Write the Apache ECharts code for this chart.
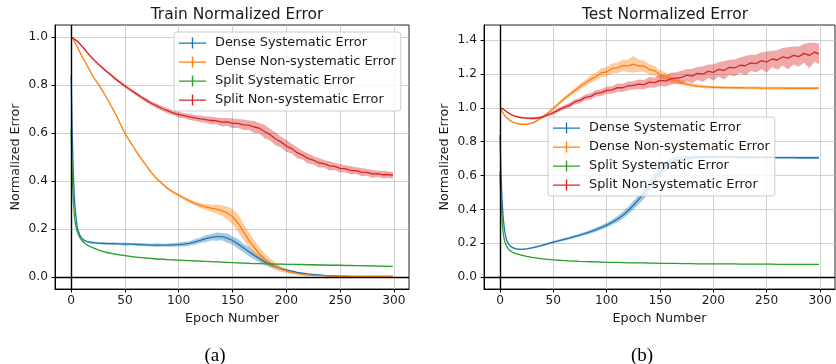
<!DOCTYPE html>
<html lang="en">
<head>
    <meta charset="UTF-8">
    <title>Normalized Error</title>
    <script src="https://cdn.jsdelivr.net/npm/echarts@6/dist/echarts.min.js"></script>
    <style>
        html, body { margin: 0; padding: 0; background: #fff; }
        #container { width: 836px; height: 364px; }
    </style>
</head>
<body>
    <div id="container"></div>
    <script>
        var epochs = [0,1,2,3,4,5,6,8,10,12,15,20,
            25,30,35,40,45,50,55,60,65,70,75,80,85,90,95,100,105,110,115,120,
            125,130,135,140,145,150,155,160,165,170,175,180,185,190,195,200,205,210,215,220,
            225,230,235,240,245,250,255,260,265,270,275,280,285,290,295,299];

        var seriesNames = ['Dense Systematic Error', 'Dense Non-systematic Error',
            'Split Systematic Error', 'Split Non-systematic Error'];

        var xTicks = [0, 50, 100, 150, 200, 250, 300];
        var yTicksTrain = [0, 0.2, 0.4, 0.6, 0.8, 1.0];
        var yTicksTest = [0, 0.2, 0.4, 0.6, 0.8, 1.0, 1.2, 1.4];

        // ---- train ----
        var trainDenseSys = [0.84,0.60,0.43,0.33,0.27,0.23,0.20,0.175,0.162,0.153,0.147,0.143,
            0.141,0.140,0.139,0.139,0.138,0.137,0.137,0.136,0.135,0.134,0.133,0.133,0.133,0.133,0.134,0.135,0.137,0.140,0.146,0.153,
            0.160,0.165,0.168,0.168,0.162,0.152,0.138,0.122,0.106,0.090,0.076,0.063,0.052,0.043,0.035,0.029,0.024,0.019,0.016,0.013,
            0.011,0.009,0.007,0.006,0.005,0.004,0.004,0.003,0.003,0.003,0.002,0.002,0.002,0.002,0.002,0.002];
        var trainDenseSysErr = [0.006,0.006,0.005,0.004,0.004,0.004,0.004,0.004,0.004,0.004,0.004,0.005,
            0.005,0.006,0.005,0.006,0.005,0.007,0.005,0.006,0.007,0.006,0.006,0.008,0.006,0.007,0.008,0.008,0.010,0.009,0.012,0.011,
            0.014,0.013,0.017,0.015,0.019,0.017,0.020,0.018,0.019,0.016,0.015,0.012,0.010,0.008,0.006,0.005,0.004,0.003,0.003,0.002,
            0.002,0.002,0.002,0.001,0.001,0.001,0.001,0.001,0.001,0.001,0.001,0.001,0.001,0.001,0.001,0.001];

        var trainDenseNon = [1.000,0.995,0.990,0.982,0.973,0.965,0.957,0.938,0.920,0.905,0.880,0.838,
            0.805,0.770,0.730,0.690,0.645,0.598,0.562,0.527,0.494,0.463,0.433,0.407,0.387,0.368,0.353,0.341,0.328,0.317,0.307,0.298,
            0.292,0.287,0.283,0.277,0.267,0.252,0.225,0.190,0.155,0.124,0.097,0.075,0.058,0.044,0.033,0.025,0.019,0.014,0.011,0.008,
            0.007,0.006,0.005,0.004,0.004,0.003,0.003,0.003,0.002,0.002,0.002,0.002,0.002,0.002,0.002,0.002];
        var trainDenseNonErr = [0.002,0.002,0.002,0.002,0.002,0.002,0.002,0.002,0.002,0.002,0.002,0.002,
            0.003,0.003,0.003,0.004,0.003,0.004,0.004,0.004,0.005,0.004,0.005,0.005,0.006,0.005,0.006,0.006,0.007,0.008,0.008,0.010,
            0.012,0.015,0.018,0.022,0.027,0.032,0.036,0.034,0.033,0.030,0.027,0.023,0.019,0.015,0.011,0.008,0.006,0.004,0.003,0.002,
            0.002,0.002,0.001,0.001,0.001,0.001,0.001,0.001,0.001,0.001,0.001,0.001,0.001,0.001,0.001,0.001];

        var trainSplitSys = [0.61,0.43,0.32,0.26,0.22,0.20,0.185,0.165,0.152,0.143,0.133,0.122,
            0.113,0.106,0.100,0.096,0.092,0.089,0.086,0.083,0.081,0.079,0.077,0.075,0.074,0.072,0.071,0.070,0.069,0.068,0.067,0.066,
            0.065,0.064,0.063,0.062,0.061,0.060,0.059,0.058,0.057,0.056,0.056,0.055,0.055,0.054,0.054,0.053,0.053,0.052,0.052,0.051,
            0.051,0.050,0.050,0.049,0.049,0.049,0.048,0.048,0.047,0.047,0.046,0.046,0.045,0.045,0.044,0.044];
        var trainSplitSysErr = [0.003,0.003,0.003,0.002,0.002,0.002,0.002,0.002,0.002,0.002,0.002,0.002,
            0.002,0.002,0.002,0.002,0.002,0.002,0.002,0.002,0.002,0.002,0.002,0.002,0.002,0.002,0.002,0.002,0.002,0.002,0.002,0.002,
            0.002,0.002,0.002,0.002,0.002,0.002,0.002,0.002,0.002,0.002,0.002,0.002,0.002,0.002,0.002,0.002,0.002,0.002,0.002,0.002,
            0.002,0.002,0.002,0.002,0.002,0.002,0.002,0.002,0.002,0.002,0.002,0.002,0.002,0.002,0.002,0.002];

        var trainSplitNon = [1.000,0.998,0.995,0.992,0.988,0.985,0.981,0.972,0.962,0.952,0.935,0.910,
            0.888,0.868,0.849,0.830,0.812,0.796,0.780,0.765,0.750,0.736,0.723,0.712,0.701,0.692,0.684,0.677,0.672,0.667,0.663,0.659,
            0.656,0.652,0.651,0.645,0.646,0.640,0.640,0.634,0.633,0.625,0.620,0.605,0.593,0.575,0.563,0.546,0.535,0.518,0.508,0.494,
            0.487,0.476,0.472,0.463,0.461,0.453,0.451,0.444,0.443,0.437,0.436,0.430,0.431,0.426,0.427,0.424];
        var trainSplitNonErr = [0.003,0.003,0.003,0.003,0.003,0.003,0.003,0.004,0.004,0.004,0.004,0.005,
            0.005,0.006,0.005,0.007,0.006,0.007,0.006,0.008,0.007,0.009,0.008,0.010,0.009,0.011,0.010,0.012,0.011,0.013,0.012,0.014,
            0.013,0.016,0.014,0.018,0.016,0.020,0.018,0.022,0.019,0.025,0.022,0.028,0.024,0.027,0.022,0.025,0.020,0.023,0.018,0.021,
            0.017,0.020,0.016,0.019,0.015,0.018,0.015,0.017,0.014,0.017,0.014,0.016,0.013,0.016,0.013,0.015];

        // ---- test ----
        var testDenseSys = [0.84,0.60,0.45,0.35,0.29,0.25,0.222,0.195,0.181,0.173,0.166,0.163,
            0.166,0.172,0.180,0.188,0.197,0.206,0.214,0.222,0.230,0.239,0.248,0.258,0.268,0.280,0.293,0.307,0.323,0.342,0.364,0.392,
            0.424,0.458,0.495,0.537,0.582,0.622,0.653,0.676,0.690,0.698,0.703,0.706,0.708,0.709,0.710,0.710,0.710,0.710,0.709,0.709,
            0.708,0.708,0.708,0.707,0.707,0.707,0.707,0.706,0.706,0.706,0.706,0.705,0.705,0.705,0.705,0.705];
        var testDenseSysErr = [0.004,0.004,0.004,0.004,0.004,0.004,0.004,0.004,0.004,0.004,0.004,0.004,
            0.004,0.005,0.005,0.006,0.006,0.007,0.007,0.008,0.008,0.009,0.009,0.010,0.011,0.012,0.013,0.014,0.016,0.018,0.020,0.023,
            0.026,0.029,0.032,0.035,0.036,0.034,0.030,0.026,0.021,0.017,0.014,0.012,0.010,0.009,0.008,0.008,0.007,0.007,0.007,0.007,
            0.007,0.007,0.007,0.007,0.007,0.007,0.007,0.007,0.007,0.007,0.007,0.007,0.007,0.007,0.007,0.007];

        var testDenseNon = [1.000,0.990,0.978,0.968,0.958,0.950,0.943,0.932,0.923,0.916,0.909,0.903,
            0.903,0.910,0.925,0.945,0.970,0.997,1.025,1.052,1.078,1.102,1.125,1.147,1.170,1.184,1.208,1.212,1.233,1.236,1.250,1.248,
            1.258,1.249,1.247,1.228,1.219,1.197,1.188,1.170,1.162,1.150,1.141,1.134,1.129,1.126,1.124,1.122,1.121,1.120,1.120,1.119,
            1.119,1.118,1.118,1.118,1.117,1.117,1.117,1.117,1.117,1.116,1.116,1.116,1.116,1.116,1.116,1.117];
        var testDenseNonErr = [0.003,0.003,0.003,0.003,0.003,0.003,0.003,0.003,0.003,0.003,0.003,0.003,
            0.004,0.005,0.006,0.007,0.008,0.009,0.010,0.012,0.013,0.015,0.017,0.019,0.021,0.024,0.026,0.028,0.030,0.032,0.034,0.036,
            0.050,0.036,0.033,0.030,0.028,0.025,0.022,0.019,0.016,0.014,0.012,0.011,0.010,0.009,0.009,0.008,0.008,0.008,0.008,0.008,
            0.008,0.008,0.008,0.008,0.008,0.008,0.008,0.008,0.008,0.008,0.008,0.008,0.008,0.008,0.008,0.008];

        var testSplitSys = [0.62,0.45,0.33,0.26,0.22,0.20,0.185,0.165,0.152,0.145,0.138,0.130,
            0.122,0.116,0.111,0.107,0.104,0.101,0.099,0.097,0.095,0.094,0.092,0.091,0.090,0.089,0.088,0.087,0.086,0.086,0.085,0.084,
            0.084,0.083,0.083,0.082,0.082,0.081,0.081,0.080,0.080,0.079,0.079,0.079,0.078,0.078,0.078,0.077,0.077,0.077,0.077,0.077,
            0.076,0.076,0.076,0.076,0.076,0.076,0.076,0.075,0.075,0.075,0.075,0.075,0.075,0.075,0.075,0.075];
        var testSplitSysErr = [0.003,0.003,0.003,0.003,0.003,0.003,0.003,0.003,0.003,0.003,0.003,0.003,
            0.002,0.002,0.002,0.002,0.002,0.002,0.002,0.002,0.002,0.002,0.002,0.002,0.002,0.002,0.002,0.002,0.002,0.002,0.002,0.002,
            0.002,0.002,0.002,0.002,0.002,0.002,0.002,0.002,0.002,0.002,0.002,0.002,0.002,0.002,0.002,0.002,0.002,0.002,0.002,0.002,
            0.002,0.002,0.002,0.002,0.002,0.002,0.002,0.002,0.002,0.002,0.002,0.002,0.002,0.002,0.002,0.002];

        var testSplitNon = [1.000,0.999,0.997,0.993,0.988,0.983,0.978,0.970,0.962,0.956,0.949,0.942,
            0.939,0.938,0.940,0.947,0.958,0.972,0.987,1.003,1.015,1.035,1.044,1.062,1.068,1.086,1.090,1.104,1.106,1.120,1.119,1.130,
            1.133,1.140,1.138,1.152,1.149,1.163,1.158,1.172,1.176,1.180,1.193,1.188,1.204,1.199,1.216,1.210,1.228,1.221,1.240,1.236,
            1.252,1.249,1.266,1.262,1.279,1.271,1.289,1.283,1.302,1.294,1.310,1.303,1.322,1.310,1.330,1.318];
        var testSplitNonErr = [0.003,0.003,0.003,0.003,0.003,0.003,0.003,0.004,0.004,0.004,0.005,0.006,
            0.007,0.008,0.008,0.009,0.010,0.011,0.012,0.013,0.014,0.015,0.016,0.017,0.018,0.019,0.020,0.021,0.022,0.024,0.023,0.026,
            0.025,0.028,0.027,0.031,0.029,0.034,0.032,0.036,0.034,0.040,0.036,0.043,0.038,0.046,0.040,0.048,0.042,0.055,0.044,0.050,
            0.046,0.058,0.048,0.052,0.050,0.062,0.049,0.057,0.052,0.065,0.053,0.060,0.055,0.075,0.056,0.060];

        var colors = ['#1f77b4', '#ff7f0e', '#2ca02c', '#d62728'];
        var bandColors = ['rgba(31,119,180,0.4)', 'rgba(255,127,14,0.4)', 'rgba(44,160,44,0.4)', 'rgba(214,39,40,0.4)'];

        var font = 'DejaVu Sans';
        var txt = '#1a1a1a';

        // error bars drawn as a band through the axis scale
        function bandSeries(gi, vals, errs, k) {
            return {
                type: 'custom',
                xAxisIndex: gi,
                yAxisIndex: gi,
                silent: true,
                clip: true,
                data: [[epochs[0], vals[0]]],
                renderItem: function (params, api) {
                    var up = [], lo = [];
                    for (var i = 0; i < epochs.length; i++) {
                        up.push(api.coord([epochs[i], vals[i] + errs[i]]));
                        lo.unshift(api.coord([epochs[i], vals[i] - errs[i]]));
                    }
                    return {
                        type: 'polygon',
                        shape: { points: up.concat(lo) },
                        style: { fill: bandColors[k], stroke: null }
                    };
                }
            };
        }

        function lineSeries(gi, vals, k) {
            return {
                type: 'line',
                name: seriesNames[k],
                xAxisIndex: gi,
                yAxisIndex: gi,
                color: colors[k],
                symbol: 'none',
                showSymbol: false,
                data: epochs.map(function (e, i) { return [e, vals[i]]; }),
                lineStyle: { color: colors[k], width: 1.3 }
            };
        }

        function zeroLines() {
            return {
                silent: true,
                symbol: ['none', 'none'],
                label: { show: false },
                lineStyle: { color: '#000', width: 1.4, type: 'solid' },
                data: [{ xAxis: 0 }, { yAxis: 0 }]
            };
        }

        function xAxisCfg(gi) {
            return {
                type: 'value', gridIndex: gi, min: -15, max: 314,
                name: 'Epoch Number', nameLocation: 'middle', nameGap: 22,
                nameTextStyle: { fontFamily: font, fontSize: 12.7, color: txt },
                axisLine: { show: true, onZero: false, lineStyle: { color: '#000', width: 1 } },
                axisTick: { show: true, length: 3.5, customValues: xTicks, lineStyle: { color: '#000' } },
                axisLabel: {
                    margin: 6, fontFamily: font, fontSize: 12.2, color: txt,
                    customValues: xTicks
                },
                splitLine: { show: true, lineStyle: { color: '#c4c4c4', width: 0.8 } }
            };
        }

        function yAxisCfg(gi, mn, mx, ticks) {
            return {
                type: 'value', gridIndex: gi, min: mn, max: mx,
                name: 'Normalized Error', nameLocation: 'middle', nameGap: 33,
                nameTextStyle: { fontFamily: font, fontSize: 12.7, color: txt },
                axisLine: { show: true, onZero: false, lineStyle: { color: '#000', width: 1 } },
                axisTick: { show: true, length: 3.5, customValues: ticks, lineStyle: { color: '#000' } },
                axisLabel: {
                    margin: 7, fontFamily: font, fontSize: 12.2, color: txt,
                    customValues: ticks,
                    formatter: function (v) { return v.toFixed(1); }
                },
                splitLine: { show: true, lineStyle: { color: '#c4c4c4', width: 0.8 } }
            };
        }

        function legendCfg(left, top) {
            return {
                left: left, top: top, orient: 'vertical',
                data: seriesNames,
                icon: 'path://M0,5h27v1.3h-27z M12.8,0h1.4v11h-1.4z',
                itemWidth: 27, itemHeight: 11, itemGap: 5,
                padding: [4, 5, 4, 5],
                backgroundColor: 'rgba(255,255,255,0.8)',
                borderColor: '#cccccc', borderWidth: 1, borderRadius: 3,
                textStyle: { fontFamily: font, fontSize: 12.9, color: txt, lineHeight: 14, padding: [0, 0, 0, 4] },
                selectedMode: false
            };
        }

        var trainSets = [[trainDenseSys, trainDenseSysErr], [trainDenseNon, trainDenseNonErr],
            [trainSplitSys, trainSplitSysErr], [trainSplitNon, trainSplitNonErr]];
        var testSets = [[testDenseSys, testDenseSysErr], [testDenseNon, testDenseNonErr],
            [testSplitSys, testSplitSysErr], [testSplitNon, testSplitNonErr]];

        var series = [];
        [trainSets, testSets].forEach(function (sets, gi) {
            sets.forEach(function (s, k) {
                series.push(bandSeries(gi, s[0], s[1], k));
                var ln = lineSeries(gi, s[0], k);
                if (k === 3) ln.markLine = zeroLines();
                series.push(ln);
            });
        });

        var myChart = echarts.init(document.getElementById('container'));
        var option = {
            animation: false,
            backgroundColor: '#fff',
            title: [
                { text: 'Train Normalized Error', left: 232, top: 2, textAlign: 'center',
                  textStyle: { fontFamily: font, fontSize: 15.5, fontWeight: 'normal', color: txt } },
                { text: 'Test Normalized Error', left: 660, top: 2, textAlign: 'center',
                  textStyle: { fontFamily: font, fontSize: 15.5, fontWeight: 'normal', color: txt } },
                { text: '(a)', left: 210, top: 342, textAlign: 'center',
                  textStyle: { fontFamily: 'Liberation Serif', fontSize: 19, fontWeight: 'normal', color: '#000' } },
                { text: '(b)', left: 637, top: 342, textAlign: 'center',
                  textStyle: { fontFamily: 'Liberation Serif', fontSize: 19, fontWeight: 'normal', color: '#000' } }
            ],
            legend: [legendCfg(174, 32), legendCfg(548, 117)],
            grid: [
                { left: 55, top: 25, width: 354, height: 264, show: true, borderColor: '#222', borderWidth: 1, backgroundColor: 'transparent' },
                { left: 484, top: 25, width: 351, height: 264, show: true, borderColor: '#222', borderWidth: 1, backgroundColor: 'transparent' }
            ],
            xAxis: [xAxisCfg(0), xAxisCfg(1)],
            yAxis: [yAxisCfg(0, -0.05, 1.05, yTicksTrain), yAxisCfg(1, -0.071, 1.49, yTicksTest)],
            series: series
        };
        myChart.setOption(option);
    </script>
</body>
</html>
